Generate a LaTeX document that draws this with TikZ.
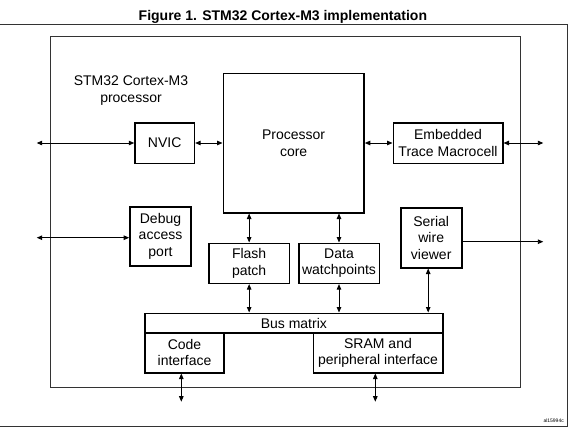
\documentclass[tikz,border=0pt]{standalone}
\usepackage{fontspec}
\setmainfont{Liberation Sans}
\usetikzlibrary{arrows.meta}
\begin{document}
\begin{tikzpicture}[x=1pt,y=-1pt,
  box/.style={draw=black, line width=1.6pt, align=center, inner sep=0pt, font=\fontsize{14}{16.5}\selectfont, text=black},
  tip/.style={Triangle[length=5.5pt,width=4.5pt]},
  conn/.style={line width=0.9pt, {Triangle[length=5.5pt,width=4.5pt]}-{Triangle[length=5.5pt,width=4.5pt]}},
  oneway/.style={line width=0.9pt, -{Triangle[length=5.5pt,width=4.5pt]}},
  frame/.style={line width=1pt, draw=black!80}]
\useasboundingbox (0,0) rectangle (572,432);
% title
\node[font=\bfseries\fontsize{14}{16}\selectfont, anchor=base] (title) at (282.9,20.7) {Figure 1. STM32 Cortex-M3 implementation};
% frames
\draw[frame] (0,24.5) -- (567.3,24.5) -- (567.3,426) -- (0,426);
\draw[frame] (50.7,36) rectangle (520.7,387.7);
% label
\node[font=\fontsize{14}{17}\selectfont, align=center] (proc) at (131,91) {STM32 Cortex-M3\\processor};
% boxes
\node[box, minimum width=140.7, minimum height=139.4] (core) at (293.65,143) {Processor\\core};
\node[box, minimum width=59.3, minimum height=40.6] (nvic) at (164.7,143) {NVIC};
\node[box, minimum width=109.4, minimum height=40.6] (etm) at (448,143) {Embedded\\Trace Macrocell};
\node[box, minimum width=61, minimum height=59] (dap) at (160.5,236.2) {Debug\\access\\port};
\node[box, minimum width=61, minimum height=60] (swv) at (431.2,237.7) {Serial\\wire\\viewer};
\node[box, minimum width=80.3, minimum height=40] (flash) at (249.15,263.3) {Flash\\patch};
\node[box, minimum width=80.6, minimum height=40] (dwt) at (339,263.3) {Data\\watchpoints};
\node[box, minimum width=297.7, minimum height=19.4] (bus) at (293.85,323) {Bus matrix};
\node[box, minimum width=79, minimum height=40] (code) at (184.5,352.7) {Code\\interface};
\node[box, minimum width=129.4, minimum height=40] (sram) at (378,352.7) {SRAM and\\peripheral interface};
% free ends
\coordinate (nvicL) at (36.7,143);
\coordinate (dapL) at (36.7,237.7);
\coordinate (etmR) at (543.3,143);
\coordinate (swvR) at (543.3,241.7);
\coordinate (codeD) at (181.3,401.7);
\coordinate (sramD) at (375.3,401.7);
% connectors
\draw[conn] (nvicL) -- (nvic.west);
\draw[conn] (nvic.east) -- (core.west);
\draw[conn] (core.east) -- (etm.west);
\draw[conn] (etm.east) -- (etmR);
\draw[conn] (dapL) -- (dap.west |- dapL);
\draw[oneway] (swv.east |- swvR) -- (swvR);
\draw[conn] (core.south -| flash.north) -- (flash.north);
\draw[conn] (core.south -| dwt.north) -- (dwt.north);
\draw[conn] (flash.south) -- (flash.south |- bus.north);
\draw[conn] (dwt.south) -- (dwt.south |- bus.north);
\draw[conn] ([xshift=-3pt]swv.south) -- ([xshift=-3pt]swv.south |- bus.north);
\draw[conn] (codeD |- code.south) -- (codeD);
\draw[conn] (sramD |- sram.south) -- (sramD);
% reference
\node[font=\fontsize{5}{6}\selectfont, anchor=base east, inner sep=0pt] (ref) at (564,422.7) {al15994c};
\end{tikzpicture}
\end{document}
